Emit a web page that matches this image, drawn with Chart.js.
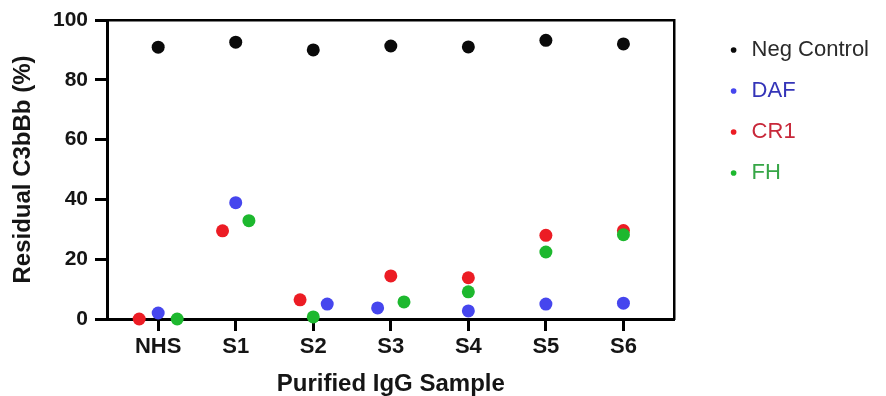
<!DOCTYPE html>
<html>
<head>
<meta charset="utf-8">
<script src="https://cdn.jsdelivr.net/npm/chart.js@4.4.1/dist/chart.umd.min.js"></script>
<style>
  html, body { margin: 0; padding: 0; background: #ffffff; }
  #wrap { width: 886px; height: 396px; }
</style>
</head>
<body>
<div id="wrap"><canvas id="c" width="886" height="396"></canvas></div>
<script>
// ---- data ----
const categories = ['NHS', 'S1', 'S2', 'S3', 'S4', 'S5', 'S6'];
const seriesNames = ['Neg Control', 'DAF', 'CR1', 'FH'];

const negControl = [90.9, 92.6, 90.0, 91.3, 91.0, 93.2, 92.0];
const daf        = [2.0, 38.9, 5.0, 3.7, 2.7, 5.0, 5.3];
const cr1        = [0.0, 29.5, 6.4, 14.4, 13.8, 28.0, 29.6];
const fh         = [0.0, 32.9, 0.7, 5.7, 9.1, 22.4, 28.2];

// horizontal jitter within each category (category units), as in the reference scatter
const negJitter = [0, 0, 0, 0, 0, 0, 0];
const dafJitter = [0, 0, 0.18, -0.17, 0, 0, 0];
const cr1Jitter = [-0.245, -0.17, -0.17, 0, 0, 0, 0];
const fhJitter  = [0.245, 0.17, 0, 0.17, 0, 0, 0];

const yTicks = [0, 20, 40, 60, 80, 100];

// ---- styles ----
const pointColors = ['#0a0a0a', '#4646ee', '#ec1c24', '#1db82e'];
const legendTextColors = ['#2a2a2a', '#3434b8', '#c8283a', '#36a646'];

Chart.defaults.font.family = '"Liberation Sans", Arial, Helvetica, sans-serif';
Chart.defaults.color = '#111111';

function toPoints(values, jitter) {
  return values.map((v, i) => ({ x: i + jitter[i], y: v }));
}

function ds(label, values, jitter, idx, order) {
  return {
    label: label,
    data: toPoints(values, jitter),
    backgroundColor: pointColors[idx],
    borderColor: pointColors[idx],
    pointBackgroundColor: pointColors[idx],
    pointBorderColor: pointColors[idx],
    pointBorderWidth: 0,
    borderWidth: 0,
    pointRadius: 6.5,
    pointHoverRadius: 6.5,
    clip: false,
    order: order,
    xAxisID: 'x',
    yAxisID: 'y'
  };
}

const data = {
  datasets: [
    ds(seriesNames[0], negControl, negJitter, 0, 3),
    ds(seriesNames[1], daf, dafJitter, 1, 2),
    ds(seriesNames[2], cr1, cr1Jitter, 2, 1),
    ds(seriesNames[3], fh, fhJitter, 3, 0)
  ]
};

const tickMarks = { display: true, drawOnChartArea: false, drawTicks: true, tickLength: 12, tickWidth: 3, tickColor: '#000000' };

new Chart(document.getElementById('c'), {
  type: 'scatter',
  data: data,
  options: {
    responsive: false,
    animation: false,
    devicePixelRatio: 1,
    layout: { padding: { top: 20, right: 7, bottom: 0, left: 0 } },
    scales: {
      x: {
        type: 'linear',
        position: 'bottom',
        min: -0.66,
        max: categories.length - 1 + 0.66,
        afterBuildTicks: (s) => { s.ticks = categories.map((c, i) => ({ value: i })); },
        afterFit: (s) => { s.height = 77; },
        grid: tickMarks,
        border: { display: true, width: 3, color: '#000000' },
        ticks: {
          autoSkip: false,
          maxRotation: 0,
          padding: 3,
          color: '#151515',
          font: { size: 22, weight: 'bold' },
          callback: (v) => categories[v] !== undefined ? categories[v] : ''
        },
        title: {
          display: true,
          text: 'Purified IgG Sample',
          color: '#151515',
          font: { size: 24, weight: 'bold' },
          padding: { top: 0, bottom: -3 }
        }
      },
      y: {
        type: 'linear',
        position: 'left',
        min: 0,
        max: 100,
        afterBuildTicks: (s) => { s.ticks = yTicks.map(v => ({ value: v })); },
        afterFit: (s) => { s.width = 107; },
        grid: tickMarks,
        border: { display: true, width: 3, color: '#000000' },
        ticks: {
          padding: 7,
          color: '#151515',
          font: { size: 21, weight: 'bold' }
        },
        title: {
          display: true,
          text: 'Residual C3bBb (%)',
          color: '#151515',
          font: { size: 24, weight: 'bold' },
          padding: { top: 9, bottom: 0 }
        }
      },
      xTop: {
        type: 'linear',
        position: 'top',
        display: true,
        afterFit: (s) => { s.height = 0; },
        grid: { display: false, drawTicks: false },
        ticks: { display: false },
        border: { display: true, width: 2.5, color: '#000000' }
      },
      yRight: {
        type: 'linear',
        position: 'right',
        display: true,
        afterFit: (s) => { s.width = 33; },
        grid: { display: false, drawTicks: false },
        ticks: { display: false },
        border: { display: true, width: 2.5, color: '#000000' }
      }
    },
    plugins: {
      tooltip: { enabled: false },
      legend: {
        display: true,
        position: 'right',
        align: 'start',
        maxWidth: 260,
        labels: {
          usePointStyle: true,
          pointStyle: 'circle',
          boxWidth: 14,
          boxHeight: 4,
          padding: 19,
          font: { size: 22 },
          sort: (a, b) => a.datasetIndex - b.datasetIndex,
          generateLabels: (chart) => {
            const items = Chart.defaults.plugins.legend.labels.generateLabels(chart);
            items.forEach(it => {
              it.fontColor = legendTextColors[it.datasetIndex];
              it.lineWidth = 0;
            });
            return items;
          }
        }
      }
    }
  }
});
</script>
</body>
</html>
